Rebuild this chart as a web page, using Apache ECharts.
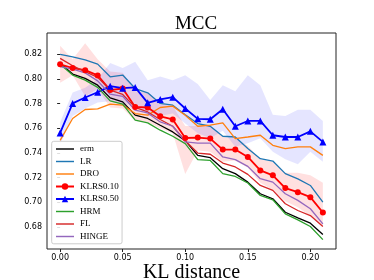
<!DOCTYPE html>
<html><head><meta charset="utf-8">
<script src="https://cdn.jsdelivr.net/npm/echarts@6/dist/echarts.min.js"></script>
<style>html,body{margin:0;padding:0;background:#fff}#c{width:374px;height:280px}</style>
</head><body><div id="c"></div>
<script>
const xs = [0.00,0.01,0.02,0.03,0.04,0.05,0.06,0.07,0.08,0.09,0.10,0.11,0.12,0.13,0.14,0.15,0.16,0.17,0.18,0.19,0.20,0.21];
const xTicks = [0.00,0.05,0.10,0.15,0.20];
const yTicks = [0.68,0.70,0.72,0.74,0.76,0.78,0.80,0.82];

const erm   = [0.8127,0.8040,0.8005,0.7950,0.7847,0.7815,0.7707,0.7680,0.7625,0.7571,0.7500,0.7381,0.7362,0.7273,0.7233,0.7164,0.7070,0.7029,0.6920,0.6875,0.6831,0.6739];
const lr    = [0.8200,0.8180,0.8155,0.8121,0.8018,0.8032,0.7923,0.7888,0.7802,0.7788,0.7710,0.7639,0.7617,0.7536,0.7530,0.7436,0.7354,0.7335,0.7233,0.7190,0.7137,0.7002];
const dro   = [0.7503,0.7680,0.7753,0.7758,0.7796,0.7788,0.7720,0.7707,0.7769,0.7780,0.7707,0.7617,0.7626,0.7644,0.7517,0.7530,0.7544,0.7463,0.7436,0.7450,0.7450,0.7381];
const klrs10= [0.8119,0.8089,0.8072,0.8029,0.7910,0.7923,0.7774,0.7769,0.7698,0.7672,0.7522,0.7525,0.7517,0.7428,0.7428,0.7368,0.7259,0.7219,0.7116,0.7083,0.7042,0.6918];
const klrs10Lo = [0.797,0.803,0.786,0.792,0.777,0.776,0.766,0.765,0.760,0.756,0.723,0.742,0.741,0.733,0.734,0.728,0.716,0.710,0.701,0.696,0.689,0.681];
const klrs10Hi = [0.827,0.816,0.829,0.816,0.806,0.805,0.790,0.789,0.781,0.778,0.762,0.762,0.762,0.753,0.752,0.746,0.735,0.733,0.724,0.724,0.722,0.716];
const klrs50= [0.7563,0.7802,0.7850,0.7893,0.7942,0.7926,0.7932,0.7807,0.7834,0.7853,0.7761,0.7677,0.7674,0.7755,0.7617,0.7660,0.7660,0.7544,0.7530,0.7530,0.7576,0.7490];
const klrs50Lo = [0.747,0.770,0.776,0.781,0.782,0.779,0.780,0.770,0.770,0.772,0.764,0.756,0.752,0.758,0.745,0.748,0.752,0.741,0.735,0.731,0.741,0.733];
const klrs50Hi = [0.765,0.789,0.793,0.800,0.813,0.809,0.814,0.799,0.802,0.799,0.803,0.796,0.783,0.795,0.790,0.803,0.795,0.771,0.770,0.775,0.775,0.766];
const hrm   = [0.8120,0.8032,0.7991,0.7932,0.7823,0.7796,0.7666,0.7644,0.7585,0.7536,0.7476,0.7346,0.7340,0.7233,0.7210,0.7157,0.7056,0.7021,0.6907,0.6858,0.6804,0.6698];
const fl    = [0.8167,0.8107,0.8060,0.8013,0.7910,0.7875,0.7770,0.7733,0.7672,0.7617,0.7500,0.7400,0.7390,0.7319,0.7287,0.7227,0.7137,0.7097,0.6989,0.6934,0.6893,0.6804];
const hinge = [0.8100,0.8080,0.8050,0.7985,0.7877,0.7860,0.7747,0.7725,0.7652,0.7617,0.7490,0.7481,0.7480,0.7368,0.7346,0.7292,0.7192,0.7164,0.7070,0.7016,0.6948,0.6826];

const pts = arr => arr.map((v,i)=>[xs[i], v]);
const serif = '"Liberation Serif","DejaVu Serif",serif';
const sans = '"DejaVu Sans",sans-serif';
const barIcon = 'path://M0,0H20V1.6H0Z';

function band(name, lo, hi, color){
  return {
    name: name, type: 'custom', clip: true, silent: true, z: 1,
    data: [[0.1, 0.75]],
    encode: {x: 0, y: 1},
    renderItem: function(params, api){
      if (params.dataIndex !== 0) return;
      const top = hi.map((v,i)=>api.coord([xs[i], v]));
      const bot = lo.map((v,i)=>api.coord([xs[i], v])).reverse();
      return {type:'polygon', shape:{points: top.concat(bot)}, style:{fill: color, stroke: 'none'}};
    }
  };
}
function line(name, arr, color, opts){
  return Object.assign({
    name: name, type: 'line', data: pts(arr), showSymbol: false, symbol: 'none',
    lineStyle: {color: color, width: 1.3}, itemStyle: {color: color}, z: 3, animation: false
  }, opts||{});
}

const chart = echarts.init(document.getElementById('c'), null, {renderer:'canvas'});
chart.setOption({
  animation: false,
  backgroundColor: '#fff',
  title: {text: 'MCC', left: 191, textAlign: 'center', top: 10,
    textStyle: {fontFamily: serif, fontSize: 19, fontWeight: 'normal', color: '#000'}},
  grid: {left: 47, top: 33, width: 289, height: 216, show: true, borderColor: '#222', borderWidth: 1,
    backgroundColor: 'transparent', outerBoundsMode: 'none', containLabel: false},
  xAxis: {type: 'value', min: -0.0105, max: 0.2205,
    name: 'KL distance', nameLocation: 'middle', nameGap: 14, nameMoveOverlap: false,
    nameTextStyle: {fontFamily: serif, fontSize: 20, color: '#000', verticalAlign: 'top'},
    axisLine: {show: false},
    axisTick: {show: true, inside: false, length: 3, customValues: xTicks, lineStyle:{color:'#222'}},
    axisLabel: {customValues: xTicks, formatter: v => v.toFixed(2), fontFamily: sans, fontSize: 8, color: '#000', margin: 5},
    splitLine: {show: false}},
  yAxis: {type: 'value', min: 0.6622, max: 0.8373,
    axisLine: {show: false},
    axisTick: {show: true, length: 3, customValues: yTicks, lineStyle:{color:'#222'}},
    axisLabel: {customValues: yTicks, formatter: v => v.toFixed(2), fontFamily: sans, fontSize: 8, color: '#000', margin: 5},
    splitLine: {show: false}},
  legend: {orient: 'vertical', left: 51.7, top: 141.3, padding: [2.7,3.3,2.3,3.3],
    backgroundColor: 'rgba(255,255,255,0.85)', borderColor: '#ccc', borderWidth: 1, borderRadius: 2,
    itemWidth: 18, itemHeight: 8, itemGap: 2.5,
    textStyle: {fontFamily: serif, fontSize: 9, color: '#000', lineHeight: 10, padding: [0,0,0,1]},
    data: [
      {name:'erm', icon: barIcon}, {name:'LR', icon: barIcon}, {name:'DRO', icon: barIcon},
      {name:'KLRS0.10'}, {name:'KLRS0.50'},
      {name:'HRM', icon: barIcon}, {name:'FL', icon: barIcon}, {name:'HINGE', icon: barIcon}
    ]},
  series: [
    band('b10', klrs10Lo, klrs10Hi, 'rgba(255,0,0,0.12)'),
    band('b50', klrs50Lo, klrs50Hi, 'rgba(0,0,255,0.10)'),
    line('erm', erm, '#000000'),
    line('LR', lr, '#1f77b4'),
    line('DRO', dro, '#ff7f0e'),
    line('KLRS0.10', klrs10, '#ff0000', {symbol:'circle', symbolSize: 6, showSymbol: true, lineStyle:{color:'#ff0000', width:1.8}}),
    line('KLRS0.50', klrs50, '#0000ff', {symbol:'triangle', symbolSize: 7, showSymbol: true, lineStyle:{color:'#0000ff', width:1.8}}),
    line('HRM', hrm, '#2ca02c'),
    line('FL', fl, '#d62728'),
    line('HINGE', hinge, '#9467bd')
  ]
});
</script></body></html>
